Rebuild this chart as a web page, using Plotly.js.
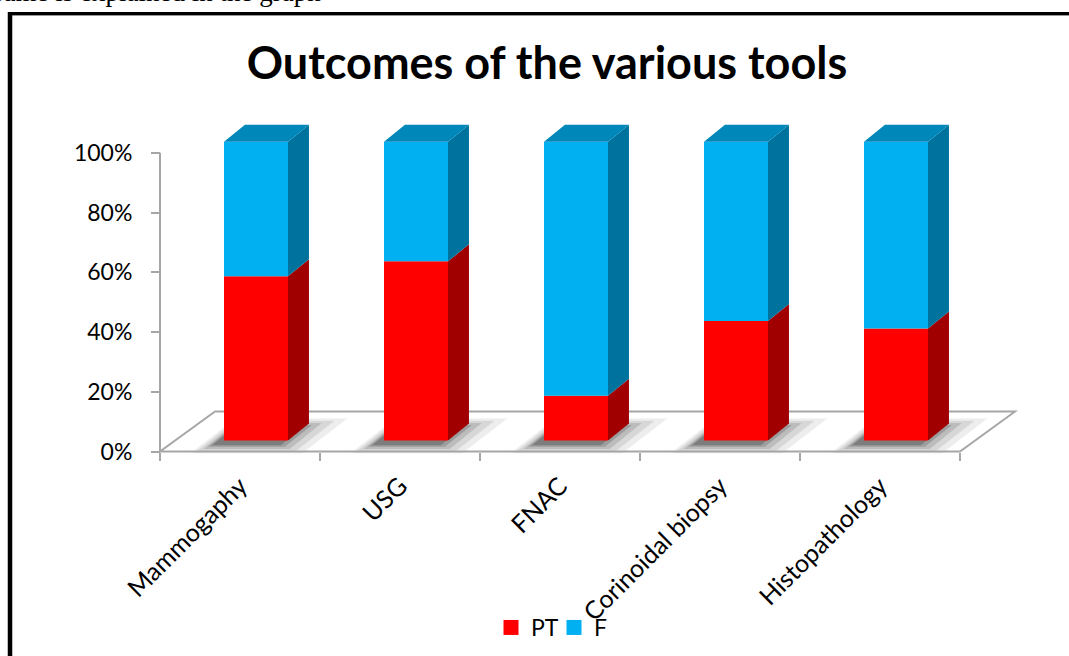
<!DOCTYPE html>
<html>
<head>
<meta charset="utf-8">
<script src="https://cdn.plot.ly/plotly-3.0.1.min.js"></script>
<style>html,body{margin:0;padding:0;background:#fff;}#chart{width:1069px;height:656px;}</style>
</head>
<body>
<div id="chart"></div>
<script>
// ---- data ----
const categories = ['Mammogaphy', 'USG', 'FNAC', 'Corinoidal biopsy', 'Histopathology'];
const ptValues = [55, 60, 15, 40, 37.5];
const fValues = [45, 40, 85, 60, 62.5];
const seriesNames = ['PT', 'F'];
const yTickVals = [0, 20, 40, 60, 80, 100];
const titleText = 'Outcomes of the various tools';
const captionText = 'same is explained in the graph';

// ---- style / 3D geometry constants ----
const colors = { ptFront: '#FF0000', ptSide: '#A00000', fFront: '#00B0F0', fSide: '#00729E', fTop: '#0087B9' };
const barW = 0.4, barOff = -0.1;      // front face from i-0.1 to i+0.3
const lift = 3.68;                    // front face raised (depth effect)
const dd = 0.131, ddy = 5.7;          // bar depth
const floorDx = 0.344, floorDy = 13.4;
const xRange = [-0.625, 4.875];
const yRange = [-1.5, 110];
const fontFam = 'Lato, "Open Sans", sans-serif';

const idx = categories.map((_, i) => i);
const fBase = ptValues.map(v => lift + v);

function sidePoly(bases, vals) {
  const xs = [], ys = [];
  idx.forEach(i => {
    const x0 = i + barOff + barW;
    const b = bases[i], t = bases[i] + vals[i];
    xs.push(x0, x0 + dd, x0 + dd, x0, x0, null);
    ys.push(b, b + ddy, t + ddy, t, b, null);
  });
  return { xs, ys };
}
function topPoly(bases, vals) {
  const xs = [], ys = [];
  idx.forEach(i => {
    const x0 = i + barOff, x1 = x0 + barW;
    const t = bases[i] + vals[i];
    xs.push(x0, x1, x1 + dd, x0 + dd, x0, null);
    ys.push(t, t, t + ddy, t + ddy, t, null);
  });
  return { xs, ys };
}

const ptSide = sidePoly(idx.map(() => lift), ptValues);
const fSide = sidePoly(fBase, fValues);
const fTop = topPoly(fBase, fValues);

const traces = [
  { type: 'bar', x: idx, y: ptValues, base: idx.map(() => lift), width: barW, offset: barOff,
    marker: { color: colors.ptFront, line: { width: 0 } }, showlegend: false, hoverinfo: 'skip' },
  { type: 'bar', x: idx, y: fValues, base: fBase, width: barW, offset: barOff,
    marker: { color: colors.fFront, line: { width: 0 } }, showlegend: false, hoverinfo: 'skip' },
  { type: 'scatter', x: ptSide.xs, y: ptSide.ys, mode: 'lines', fill: 'toself', fillcolor: colors.ptSide,
    line: { width: 0, color: colors.ptSide }, showlegend: false, hoverinfo: 'skip' },
  { type: 'scatter', x: fSide.xs, y: fSide.ys, mode: 'lines', fill: 'toself', fillcolor: colors.fSide,
    line: { width: 0, color: colors.fSide }, showlegend: false, hoverinfo: 'skip' },
  { type: 'scatter', x: fTop.xs, y: fTop.ys, mode: 'lines', fill: 'toself', fillcolor: colors.fTop,
    line: { width: 0, color: colors.fTop }, showlegend: false, hoverinfo: 'skip' },
  { type: 'scatter', x: [null], y: [null], mode: 'markers', name: seriesNames[0],
    marker: { symbol: 'square', size: 15, color: colors.ptFront } },
  { type: 'scatter', x: [null], y: [null], mode: 'markers', name: seriesNames[1],
    marker: { symbol: 'square', size: 15, color: colors.fFront } }
];

// shapes: floor, y-axis line, shadows (below traces)
const n = categories.length;
const xL = -0.5, xR = n - 0.5;
const gray = '#A6A6A6';
const shapes = [];
// shadows (stacked translucent footprints for a soft look)
[[0.15, 3.0, 0.07], [0.11, 2.2, 0.09], [0.07, 1.5, 0.12], [0.04, 0.8, 0.16], [0.015, 0.3, 0.2]].forEach(([ex, ey, op]) => {
  idx.forEach(i => {
    const sx = -0.06, sy = -1.3;
    const fl = i + barOff - ex + sx, fr = i + barOff + barW + ex + sx;
    const yb = lift - ey + sy, yt = lift + ddy + ey + sy;
    const path = `M${fl},${yb} L${fr},${yb} L${fr + dd + ex},${yt} L${fl + dd + ex},${yt} Z`;
    shapes.push({ type: 'path', xref: 'x', yref: 'y', layer: 'below', path: path,
      fillcolor: `rgba(0,0,0,${op})`, line: { width: 0 } });
  });
});
// floor parallelogram
shapes.push({ type: 'path', xref: 'x', yref: 'y', layer: 'below',
  path: `M${xL},0 L${xR},0 L${xR + floorDx},${floorDy} L${xL + floorDx},${floorDy} Z`,
  line: { color: gray, width: 2 }, fillcolor: 'rgba(0,0,0,0)' });
// y axis line
shapes.push({ type: 'line', xref: 'x', yref: 'y', layer: 'below', x0: xL, x1: xL,
  y0: yTickVals[0], y1: yTickVals[yTickVals.length - 1], line: { color: gray, width: 2 } });

// outer frame (paper coords; paper: x 140..1020 px, y 123..456 px)
const px = p => (p - 140) / 880;
const py = p => (456 - p) / 333;
shapes.push({ type: 'line', xref: 'paper', yref: 'paper', x0: px(8), x1: px(1080), y0: py(13.5), y1: py(13.5),
  line: { color: '#000', width: 3 } });
shapes.push({ type: 'line', xref: 'paper', yref: 'paper', x0: px(12), x1: px(1080), y0: py(15.5), y1: py(15.5),
  line: { color: '#999', width: 1 } });
shapes.push({ type: 'line', xref: 'paper', yref: 'paper', x0: px(10), x1: px(10), y0: py(670), y1: py(12),
  line: { color: '#000', width: 4.5 } });

const boundaries = [];
for (let i = 0; i <= n; i++) boundaries.push(i - 0.5);

const xPos = (0 - yRange[0]) / (yRange[1] - yRange[0]);
const yPos = (xL - xRange[0]) / (xRange[1] - xRange[0]);

const layout = {
  width: 1069, height: 656,
  margin: { l: 140, r: 49, t: 123, b: 200, autoexpand: false },
  paper_bgcolor: '#fff', plot_bgcolor: 'rgba(0,0,0,0)',
  barmode: 'overlay',
  title: { text: '<b>' + titleText + '</b>', font: { family: fontFam, size: 45, color: '#000' },
    x: 0.5117, xref: 'container', y: 1 - 63 / 656, yref: 'container', yanchor: 'middle', xanchor: 'center' },
  xaxis: {
    range: xRange, showgrid: false, zeroline: false, showline: false,
    anchor: 'free', position: xPos,
    tickmode: 'array', tickvals: idx, ticktext: categories, ticks: '',
    tickangle: -45, tickfont: { family: fontFam, size: 25, color: '#000' }, ticklabelstandoff: 14,
    minor: { tickmode: 'array', tickvals: boundaries, ticks: 'outside', ticklen: 8, tickwidth: 2, tickcolor: gray, showgrid: false }
  },
  yaxis: {
    range: yRange, showgrid: false, zeroline: false, showline: false,
    anchor: 'free', position: yPos,
    tickmode: 'array', tickvals: yTickVals, ticktext: yTickVals.map(v => v + '%'),
    ticks: 'outside', ticklen: 9, tickwidth: 2, tickcolor: gray,
    tickfont: { family: fontFam, size: 23, color: '#000' }, ticklabelstandoff: 14
  },
  showlegend: true,
  legend: { orientation: 'h', x: px(491), xanchor: 'left', y: py(606), yanchor: 'top',
    font: { family: fontFam, size: 23, color: '#000' }, entrywidth: 18, entrywidthmode: 'pixels',
    bgcolor: 'rgba(0,0,0,0)' },
  shapes: shapes,
  annotations: [{
    text: captionText, xref: 'paper', yref: 'paper', x: px(-9), xanchor: 'left',
    y: py(9), yanchor: 'bottom', showarrow: false,
    font: { family: '"Liberation Serif", "Times New Roman", serif', size: 27, color: '#000' }
  }]
};

Plotly.newPlot('chart', traces, layout, { displayModeBar: false, staticPlot: true });
</script>
</body>
</html>
